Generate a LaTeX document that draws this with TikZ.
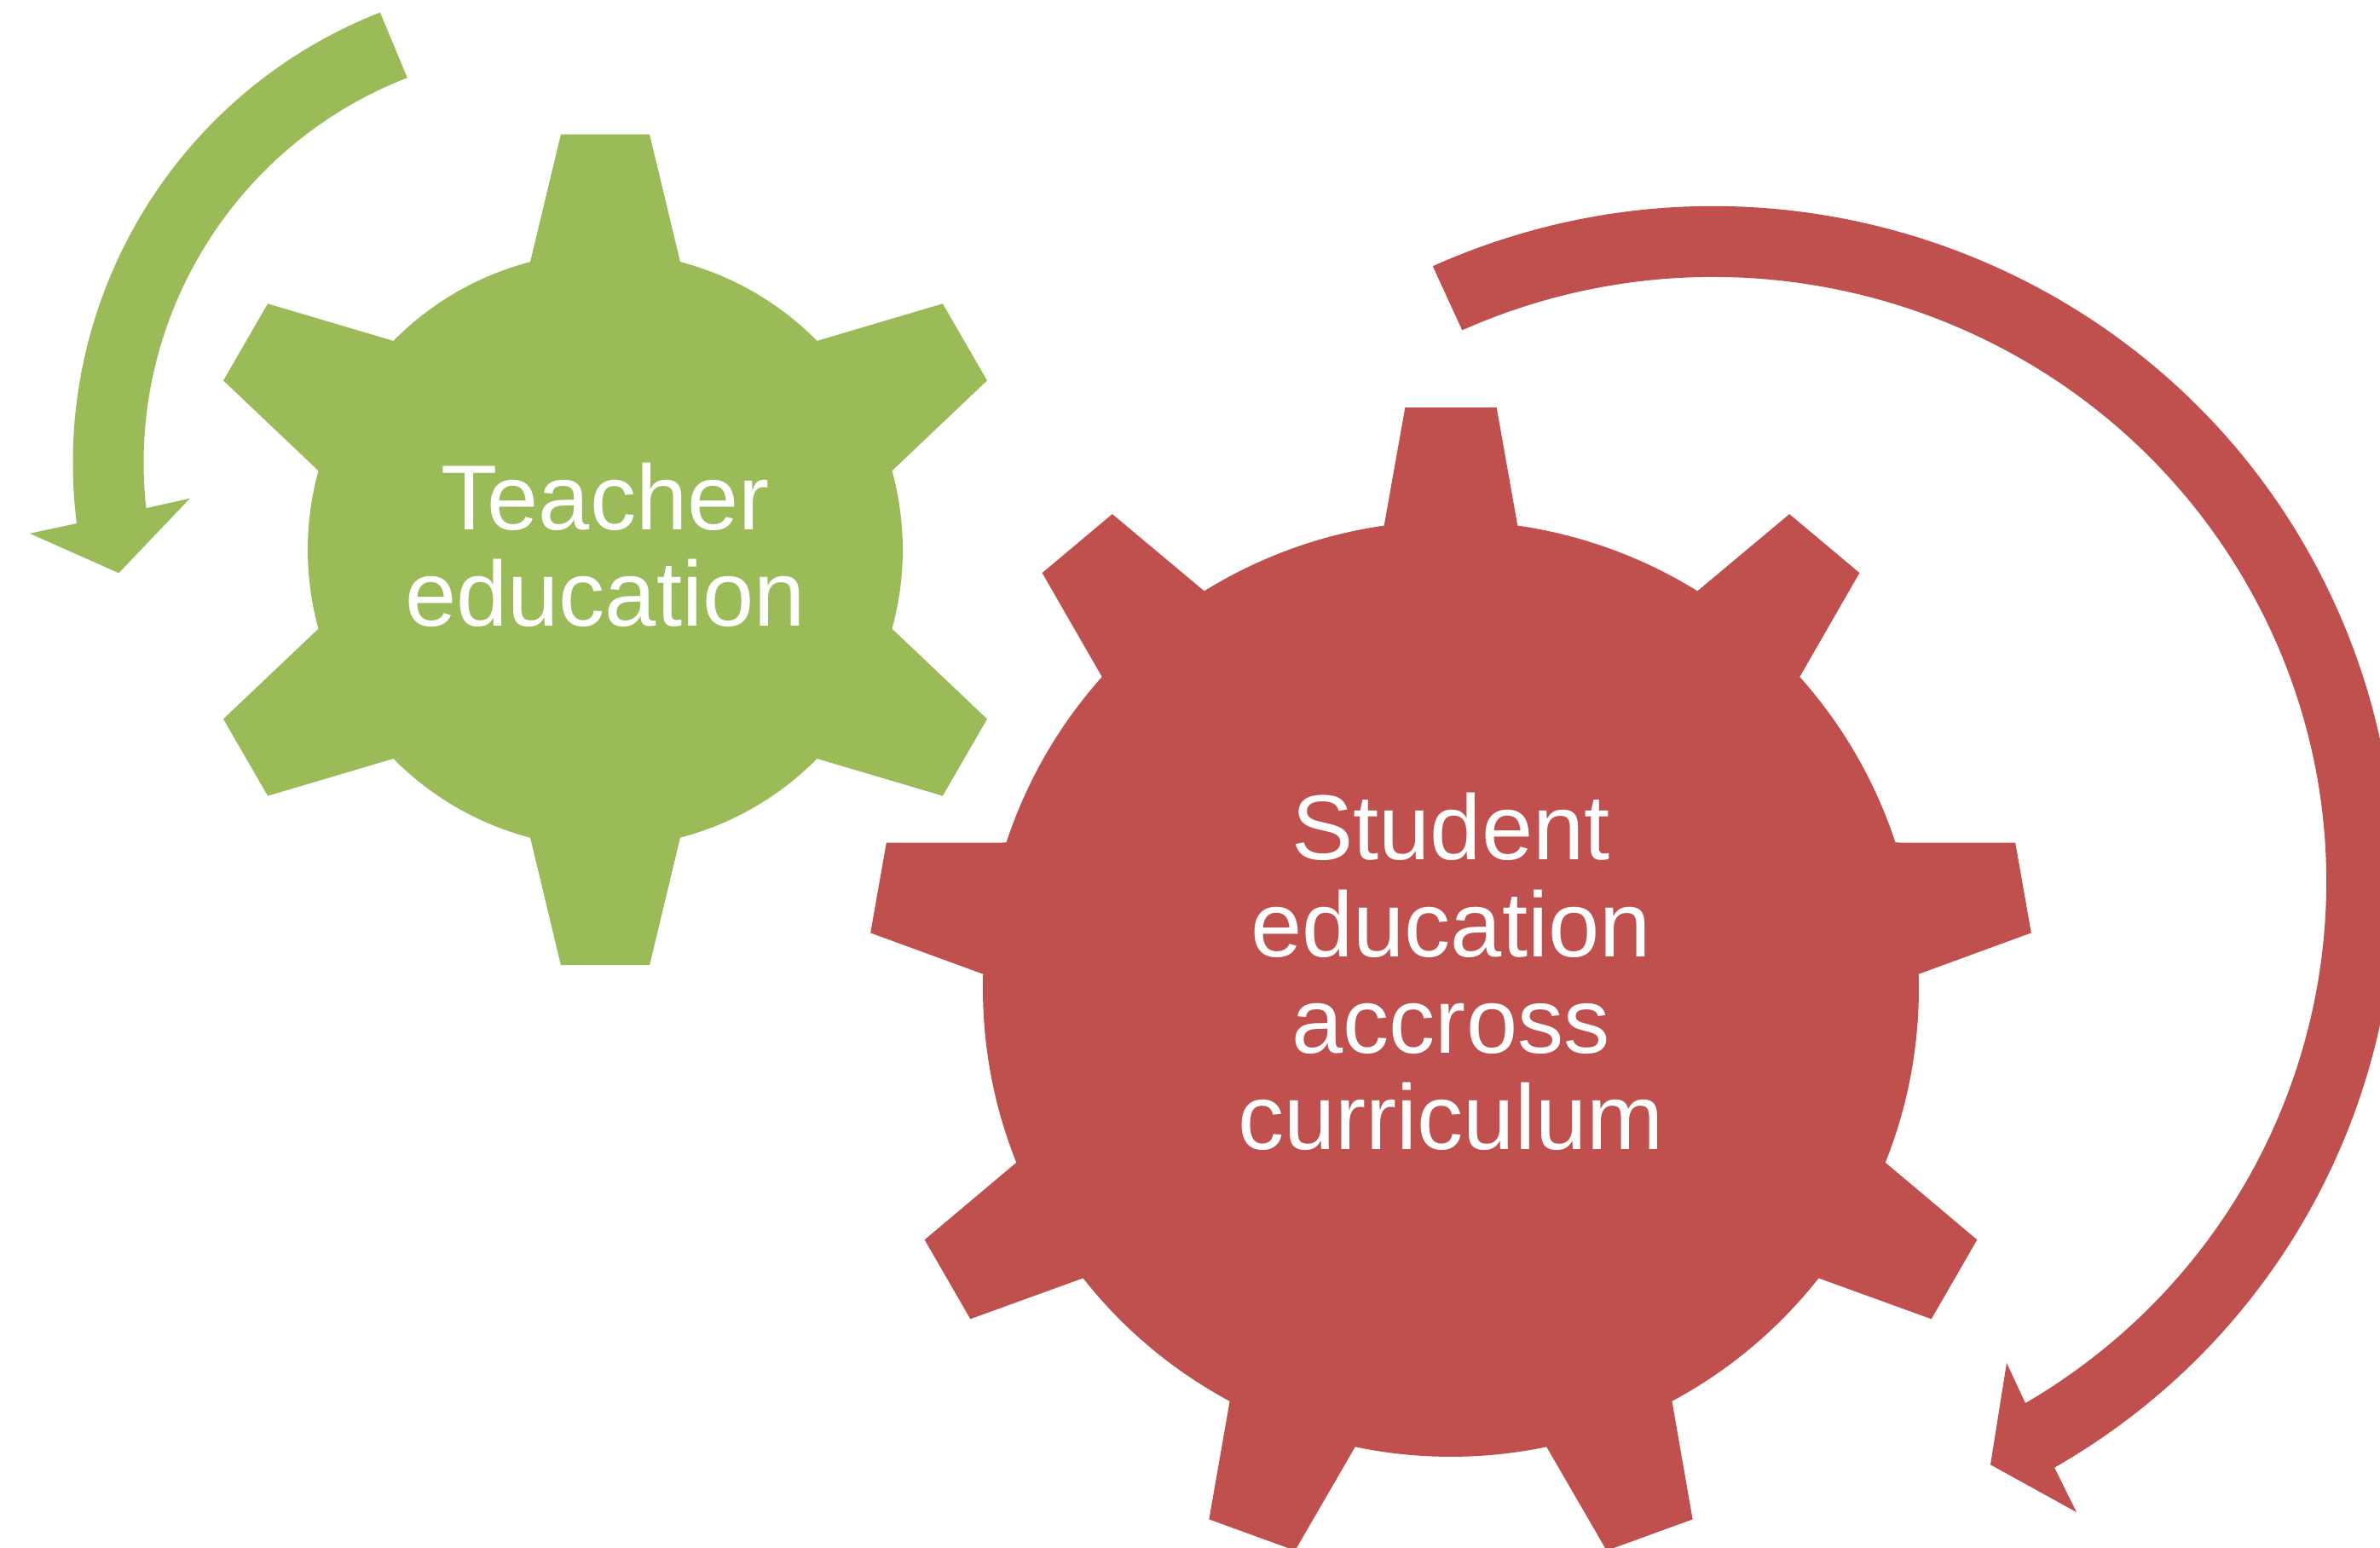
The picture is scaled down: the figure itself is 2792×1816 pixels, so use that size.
\documentclass[tikz,border=0pt]{standalone}
\usepackage{fontspec}
\setmainfont{Liberation Sans}
\definecolor{gearGreen}{HTML}{9BBB59}
\definecolor{gearRed}{HTML}{C0504D}

\begin{document}
\begin{tikzpicture}[x=0.05mm, y=0.05mm,
  greenpart/.style={fill=gearGreen},
  redpart/.style={fill=gearRed},
  geartext/.style={text=white, align=center, inner sep=0pt,
    font=\fontsize{15.4}{16.1}\selectfont}]
  \useasboundingbox (0,0) rectangle (2792,1816);
  \clip (0,0) rectangle (2792,1816);

  % gear and arrow centres
  \coordinate (G1) at (710,1171);
  \coordinate (G2) at (1702,656);
  \coordinate (A1) at (653,1273);
  \coordinate (A2) at (2010,781);

  % small gear, 6 teeth
  \fill[greenpart, shift={(G1)}] (75.4:349)
    \foreach \a [evaluate=\a as \lo using \a-6.1,
                 evaluate=\a as \hi using \a+6.1,
                 evaluate=\a as \b using \a+14.6,
                 evaluate=\a as \e using \a+45.4] in {90,150,...,390}
    { -- (\lo:490) -- (\hi:490) -- (\b:349)
      arc[start angle=\b, end angle=\e, radius=349] } -- cycle;

  % big gear, 9 teeth
  \fill[redpart, shift={(G2)}] (81.8:549)
    \foreach \a [evaluate=\a as \lo using \a-4.5,
                 evaluate=\a as \hi using \a+4.5,
                 evaluate=\a as \b using \a+8.2,
                 evaluate=\a as \e using \a+31.8] in {90,130,...,410}
    { -- (\lo:684) -- (\hi:684) -- (\b:549)
      arc[start angle=\b, end angle=\e, radius=549] } -- cycle;

  % turning arrows
  \fill[greenpart, shift={(A1)}] (111.4:567.5)
    arc[start angle=111.4, end angle=187.2, radius=567.5]
    -- (-618,-82.9) -- (-513.7,-129.3) -- (-430.3,-41.8)
    -- (186.3:484.5) arc[start angle=186.3, end angle=111.2, radius=484.5]
    -- cycle;
  \fill[redpart, shift={(A2)}] (114.3:800 and 793)
    arc[start angle=114.3, end angle=-60, x radius=800, y radius=793]
    -- (426,-739) -- (325,-683.3) -- (344,-564)
    -- (-59.4:719 and 710)
    arc[start angle=-59.4, end angle=114.2, x radius=719, y radius=710]
    -- cycle;

  % labels
  \node[geartext] (teacher) at (710,1177) {Teacher\\education};
  \node[geartext] (student) at (1702,676) {Student\\education\\accross\\curriculum};
\end{tikzpicture}
\end{document}
